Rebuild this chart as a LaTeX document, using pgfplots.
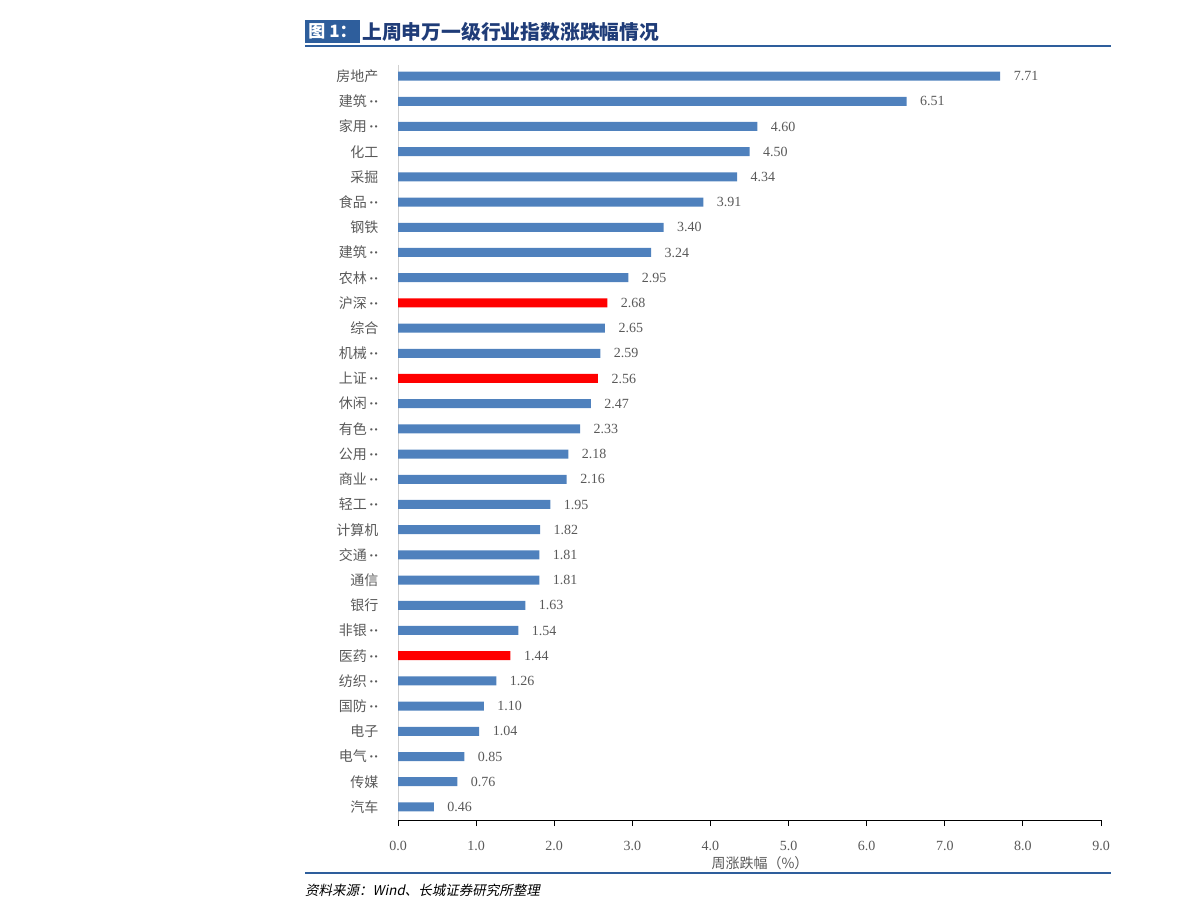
\documentclass[border=0pt]{standalone}
\usepackage{fontspec}
\usepackage{pgfplots}
\pgfplotsset{compat=1.18}
\usepackage{pgfplotstable}
\setmainfont{Noto Sans CJK SC}
\newfontfamily\numfont{Liberation Serif}
\newfontfamily\cjkit[FakeSlant=0.2]{Noto Sans CJK SC}
\newcommand\dd{{\numfont\bfseries\,··}}
\definecolor{barblue}{HTML}{4F81BD}
\definecolor{barred}{HTML}{FF0000}
\definecolor{titlebox}{HTML}{2E5E9C}
\definecolor{titletext}{HTML}{1F3C78}
\definecolor{labgray}{HTML}{595959}
\pgfplotstableread{
v idx
7.71 0
6.51 1
4.60 2
4.50 3
4.34 4
3.91 5
3.40 6
3.24 7
2.95 8
2.65 10
2.59 11
2.47 13
2.33 14
2.18 15
2.16 16
1.95 17
1.82 18
1.81 19
1.81 20
1.63 21
1.54 22
1.26 24
1.10 25
1.04 26
0.85 27
0.76 28
0.46 29
}\blueseries
\pgfplotstableread{
v idx
2.68 9
2.56 12
1.44 23
}\redseries
\begin{document}
\begin{tikzpicture}
\useasboundingbox (0pt,0pt) rectangle (1191pt,920pt);
% title
\fill[titlebox] (305pt,877pt) rectangle (360pt,900pt);
\node[text=white,font=\fontsize{17pt}{19pt}\selectfont\bfseries,inner sep=0pt] at (332.5pt,888.5pt) {图 1：};
\node[text=titletext,font=\fontsize{19.8pt}{21pt}\selectfont\bfseries,anchor=west,inner sep=0pt] at (362pt,888.5pt) {上周申万一级行业指数涨跌幅情况};
\draw[titlebox,line width=2pt] (305pt,874pt) -- (1111pt,874pt);
\draw[titlebox,line width=2pt] (305pt,47pt) -- (1111pt,47pt);
\node[anchor=west,inner sep=0pt,text=black,font=\fontsize{13.5pt}{15pt}\selectfont\cjkit] at (305pt,30pt) {资料来源：Wind、长城证券研究所整理};
\begin{axis}[
  at={(398pt,100pt)}, anchor=south west,
  scale only axis, width=703pt, height=755pt,
  xmin=0, xmax=9, ymin=-0.44, ymax=29.52,
  y dir=reverse,
  xbar, bar width=9pt, bar shift=0pt,
  clip=false,
  axis x line*=bottom, axis y line*=left,
  x axis line style={black, line width=0.8pt},
  y axis line style={draw=black!18, line width=1pt},
  xtick={0,...,9},
  tick align=outside,
  xtick style={black, line width=0.8pt},
  major tick length=6pt,
  ytick={0,...,29},
  ytick style={draw=none},
  yticklabels={房地产,建筑\dd,家用\dd,化工,采掘,食品\dd,钢铁,建筑\dd,农林\dd,沪深\dd,综合,机械\dd,上证\dd,休闲\dd,有色\dd,公用\dd,商业\dd,轻工\dd,计算机,交通\dd,通信,银行,非银\dd,医药\dd,纺织\dd,国防\dd,电子,电气\dd,传媒,汽车},
  yticklabel style={font=\fontsize{14pt}{16pt}\selectfont, text=labgray, xshift=-10pt},
  xticklabel style={font=\fontsize{14pt}{16pt}\selectfont\numfont, text=labgray, yshift=-12pt},
  /pgf/number format/assume math mode=true,
  xticklabel={\pgfmathprintnumber[fixed,zerofill,precision=1]{\tick}},
  point meta=x,
  nodes near coords={\pgfmathprintnumber[fixed,zerofill,precision=2,assume math mode=true]{\pgfplotspointmeta}},
  nodes near coords style={font=\fontsize{14pt}{16pt}\selectfont\numfont, text=labgray, anchor=west, xshift=10pt},
]
\addplot[fill=barblue, draw=none] table[x=v, y=idx] {\blueseries};
\addplot[fill=barred, draw=none] table[x=v, y=idx] {\redseries};
\node[font=\fontsize{14pt}{16pt}\selectfont, text=labgray] at (rel axis cs:0.515,0) [yshift=-43pt] {周涨跌幅（\%）};
\end{axis}
\end{tikzpicture}
\end{document}
